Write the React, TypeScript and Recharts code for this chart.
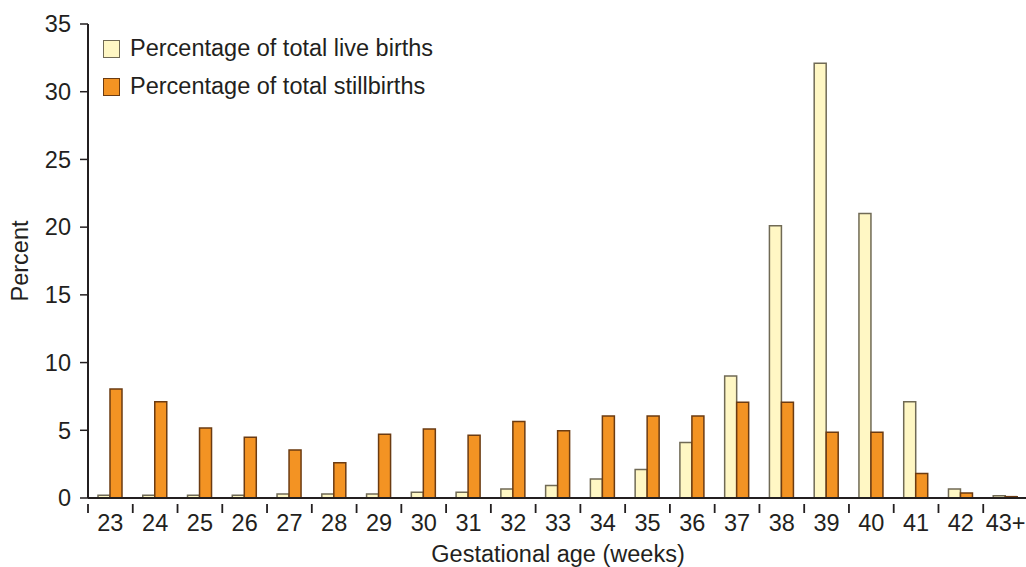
import { BarChart, Bar, XAxis, YAxis, Label } from "recharts";

const weeks = ["23", "24", "25", "26", "27", "28", "29", "30", "31", "32", "33", "34", "35", "36", "37", "38", "39", "40", "41", "42", "43+"];
const liveBirths = [0.2, 0.2, 0.2, 0.2, 0.3, 0.3, 0.3, 0.42, 0.42, 0.66, 0.92, 1.4, 2.1, 4.1, 9.0, 20.1, 32.1, 21.0, 7.1, 0.66, 0.17];
const stillBirths = [8.05, 7.1, 5.17, 4.48, 3.55, 2.61, 4.7, 5.1, 4.63, 5.64, 4.97, 6.06, 6.06, 6.06, 7.07, 7.07, 4.85, 4.85, 1.8, 0.37, 0.1];
const yTicks = [0, 5, 10, 15, 20, 25, 30, 35];
const seriesNames = ["Percentage of total live births", "Percentage of total stillbirths"];

const LIVE_FILL = "#fff7c4";
const LIVE_STROKE = "#706a55";
const STILL_FILL = "#f39323";
const STILL_STROKE = "#6b3b12";
const INK = "#231f20";
const FONT = "'Liberation Sans', Arial, sans-serif";
const FS = 23.5;

const data = weeks.map((w, i) => ({
  week: w,
  live: liveBirths[i],
  still: stillBirths[i],
}));

const HALF_BAND = 940 / weeks.length / 2;

function WeekTick(props: any) {
  const { x, y, payload } = props;
  return (
    <g>
      <line x1={x - HALF_BAND} x2={x - HALF_BAND} y1={y - 2} y2={y + 7} stroke={INK} strokeWidth={1.8} />
      <text x={x} y={y + 25} textAnchor="middle" fill={INK} fontSize={FS} fontFamily={FONT}>
        {payload.value}
      </text>
    </g>
  );
}

function LegendBox() {
  const rows = [
    { label: seriesNames[0], fill: LIVE_FILL, stroke: LIVE_STROKE },
    { label: seriesNames[1], fill: STILL_FILL, stroke: STILL_STROKE },
  ];
  return (
    <div style={{ position: "absolute", left: 103, top: 30, fontFamily: FONT, fontSize: FS, color: INK, lineHeight: 1 }}>
      {rows.map((r) => (
        <div key={r.label} style={{ display: "flex", alignItems: "center", height: 38, whiteSpace: "nowrap" }}>
          <span
            style={{
              display: "inline-block",
              width: 15,
              height: 16,
              background: r.fill,
              border: `1.5px solid ${r.stroke}`,
              marginRight: 10,
            }}
          />
          <span>{r.label}</span>
        </div>
      ))}
    </div>
  );
}

export default function App() {
  return (
    <div style={{ position: "absolute", left: 0, top: 0, width: 1026, height: 567, overflow: "hidden", background: "#fff" }}>
      <BarChart
        width={1028}
        height={567}
        data={data}
        margin={{ top: 24, right: 0, left: 0, bottom: 0 }}
        barGap={0}
        barSize={12}
      >
        <XAxis
          dataKey="week"
          height={69}
          axisLine={{ stroke: INK, strokeWidth: 2 }}
          tickLine={false}
          tick={<WeekTick />}
          interval={0}
        >
          <Label
            value="Gestational age (weeks)"
            position="insideBottom"
            offset={0}
            dy={-5}
            style={{ fontFamily: FONT, fontSize: FS, fill: INK }}
          />
        </XAxis>
        <YAxis
          width={88}
          domain={[0, 35]}
          ticks={yTicks}
          interval={0}
          axisLine={{ stroke: INK, strokeWidth: 2 }}
          tickLine={{ stroke: INK, strokeWidth: 1.5 }}
          tickSize={8}
          tickMargin={9}
          tick={{ fontFamily: FONT, fontSize: FS, fill: INK }}
        >
          <Label
            value="Percent"
            angle={-90}
            position="insideLeft"
            offset={20}
            style={{ fontFamily: FONT, fontSize: FS, fill: INK, textAnchor: "middle" }}
          />
        </YAxis>
        <Bar dataKey="live" name={seriesNames[0]} fill={LIVE_FILL} stroke={LIVE_STROKE} strokeWidth={1.5} isAnimationActive={false} />
        <Bar dataKey="still" name={seriesNames[1]} fill={STILL_FILL} stroke={STILL_STROKE} strokeWidth={1.5} isAnimationActive={false} />
      </BarChart>
      <LegendBox />
    </div>
  );
}
